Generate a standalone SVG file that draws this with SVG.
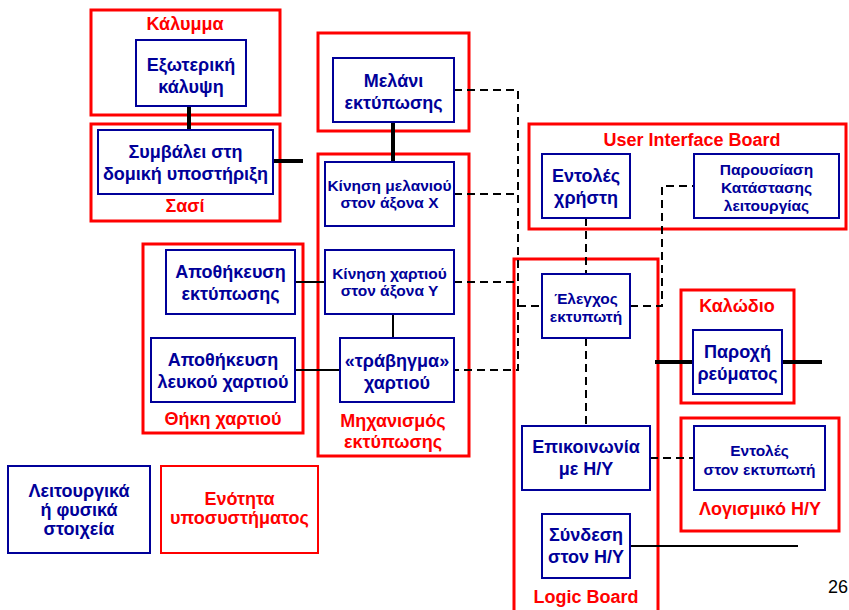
<svg xmlns="http://www.w3.org/2000/svg" width="849" height="610" viewBox="0 0 849 610">
<style>
.sub{fill:none;stroke:#FF0000;stroke-width:3}
.fn{fill:#FFFFFF;stroke:#000099;stroke-width:2}
.t{font-family:"Liberation Sans",Arial,sans-serif;font-weight:bold;text-anchor:middle}
.b{fill:#000099}
.r{fill:#FF0000}
.L{font-size:18px}
.S{font-size:15.5px}
.thick{stroke:#000;stroke-width:4;fill:none}
.thin{stroke:#000;stroke-width:2;fill:none}
.dash{stroke:#000;stroke-width:2;fill:none;stroke-dasharray:8 5}
</style>
<rect width="849" height="610" fill="#FFFFFF"/>

<g id="subsystems">
<g id="kalymma"><rect class="sub" x="91" y="10" width="189" height="105"/><text class="t r L" x="185" y="30">Κάλυμμα</text></g>
<g id="sasi"><rect class="sub" x="91" y="124" width="189" height="97"/><text class="t r L" x="185" y="212">Σασί</text></g>
<g id="melani-box"><rect class="sub" x="318" y="33" width="151" height="98"/></g>
<g id="mixanismos"><rect class="sub" x="318" y="154" width="151" height="302"/><text class="t r L" x="393" y="427">Μηχανισμός</text><text class="t r L" x="393" y="448">εκτύπωσης</text></g>
<g id="thiki"><rect class="sub" x="143" y="244" width="160" height="189"/><text class="t r L" x="223" y="425">Θήκη χαρτιού</text></g>
<g id="uib"><rect class="sub" x="529" y="124" width="317" height="105"/><text class="t r L" x="692" y="146">User Interface Board</text></g>
<g id="logic"><rect class="sub" x="514" y="259" width="144" height="360"/><text class="t r L" x="586" y="603">Logic Board</text></g>
<g id="kalodio"><rect class="sub" x="681" y="290" width="113" height="113"/><text class="t r L" x="737" y="312">Καλώδιο</text></g>
<g id="logismiko"><rect class="sub" x="681" y="418" width="158" height="113"/><text class="t r L" x="760" y="515">Λογισμικό Η/Υ</text></g>
</g>

<g id="connectors">
<line class="thick" x1="189" y1="106" x2="189" y2="130"/>
<line class="thick" x1="273" y1="161" x2="303" y2="161"/>
<line class="thick" x1="393" y1="122" x2="393" y2="162"/>
<line class="thin" x1="295" y1="282" x2="325" y2="282"/>
<line class="thin" x1="295" y1="370" x2="340" y2="370"/>
<line class="thin" x1="393" y1="314" x2="393" y2="338"/>
<polyline class="dash" points="454,90 518,90 518,370 454,370"/>
<line class="dash" x1="454" y1="194" x2="518" y2="194"/>
<line class="dash" x1="454" y1="282" x2="518" y2="282"/>
<line class="dash" x1="518" y1="306" x2="542" y2="306"/>
<line class="dash" x1="586" y1="218" x2="586" y2="274"/>
<polyline class="dash" points="630,306 662,306 662,186 694,186"/>
<line class="dash" x1="586" y1="338" x2="586" y2="426"/>
<line class="dash" x1="650" y1="458" x2="694" y2="458"/>
<line class="thick" x1="655" y1="362" x2="822" y2="362"/>
<line class="thin" x1="630" y1="546" x2="798" y2="546"/>
</g>

<g id="exoteriki"><rect class="fn" x="136" y="40" width="110" height="66"/><text class="t b L" x="191" y="71">Εξωτερική</text><text class="t b L" x="191" y="93">κάλυψη</text></g>
<g id="symvalei"><rect class="fn" x="98" y="130" width="175" height="64"/><text class="t b L" x="185.5" y="158">Συμβάλει στη</text><text class="t b L" x="185.5" y="180">δομική υποστήριξη</text></g>
<g id="melani"><rect class="fn" x="333" y="58" width="121" height="64"/><text class="t b L" x="393.5" y="87">Μελάνι</text><text class="t b L" x="393.5" y="109">εκτύπωσης</text></g>
<g id="kinisi-melaniou"><rect class="fn" x="325" y="162" width="129" height="64"/><text class="t b S" x="389.5" y="191">Κίνηση μελανιού</text><text class="t b S" x="389.5" y="208">στον άξονα Χ</text></g>
<g id="kinisi-xartiou"><rect class="fn" x="325" y="250" width="129" height="64"/><text class="t b S" x="389.5" y="279">Κίνηση χαρτιού</text><text class="t b S" x="389.5" y="296">στον άξονα Υ</text></g>
<g id="travigma"><rect class="fn" x="340" y="338" width="114" height="64"/><text class="t b L" x="397" y="367">«τράβηγμα»</text><text class="t b L" x="397" y="389">χαρτιού</text></g>
<g id="apothikeusi-ektyposis"><rect class="fn" x="166" y="250" width="129" height="64"/><text class="t b L" x="230.5" y="278">Αποθήκευση</text><text class="t b L" x="230.5" y="300">εκτύπωσης</text></g>
<g id="apothikeusi-leukou"><rect class="fn" x="151" y="338" width="144" height="64"/><text class="t b L" x="223" y="366">Αποθήκευση</text><text class="t b L" x="223" y="388">λευκού χαρτιού</text></g>
<g id="entoles-xristi"><rect class="fn" x="542" y="154" width="88" height="64"/><text class="t b L" x="586" y="182">Εντολές</text><text class="t b L" x="586" y="204">χρήστη</text></g>
<g id="parousiasi"><rect class="fn" x="694" y="154" width="145" height="64"/><text class="t b S" x="766.5" y="175">Παρουσίαση</text><text class="t b S" x="766.5" y="193">Κατάστασης</text><text class="t b S" x="766.5" y="211">λειτουργίας</text></g>
<g id="elegxos"><rect class="fn" x="542" y="274" width="88" height="64"/><text class="t b S" x="586" y="304">Έλεγχος</text><text class="t b S" x="586" y="322">εκτυπωτή</text></g>
<g id="paroxi"><rect class="fn" x="693" y="330" width="89" height="64"/><text class="t b L" x="737.5" y="358">Παροχή</text><text class="t b L" x="737.5" y="380">ρεύματος</text></g>
<g id="epikoinonia"><rect class="fn" x="522" y="426" width="128" height="64"/><text class="t b L" x="586" y="453">Επικοινωνία</text><text class="t b L" x="586" y="475">με Η/Υ</text></g>
<g id="entoles-ektypoti"><rect class="fn" x="694" y="426" width="131" height="64"/><text class="t b S" x="759.5" y="456">Εντολές</text><text class="t b S" x="759.5" y="475">στον εκτυπωτή</text></g>
<g id="syndesi"><rect class="fn" x="542" y="514" width="88" height="64"/><text class="t b L" x="586" y="541">Σύνδεση</text><text class="t b L" x="586" y="563">στον Η/Υ</text></g>

<g id="legend-function"><rect class="fn" x="8" y="466" width="142" height="87"/><text class="t b L" x="79" y="497">Λειτουργικά</text><text class="t b L" x="79" y="516">ή φυσικά</text><text class="t b L" x="79" y="535">στοιχεία</text></g>
<g id="legend-subsystem"><rect fill="none" stroke="#FF0000" stroke-width="2" x="161" y="466" width="157" height="87"/><text class="t r L" x="239.5" y="505">Ενότητα</text><text class="t r L" x="239.5" y="524">υποσυστήματος</text></g>
<text x="828" y="593" font-family="'Liberation Sans',Arial,sans-serif" font-size="18" fill="#000">26</text>
</svg>
